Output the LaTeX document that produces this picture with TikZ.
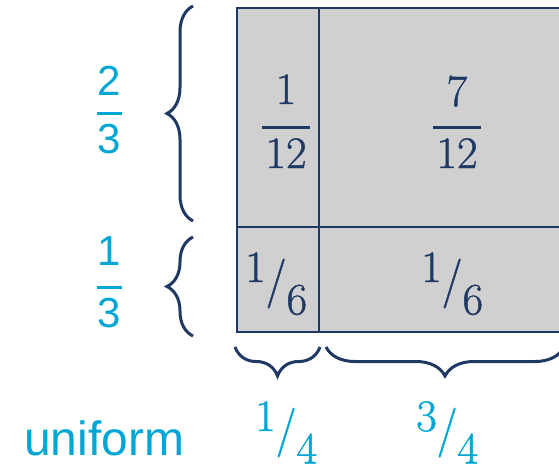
\documentclass[tikz,border=0pt]{standalone}
\usepackage{fontspec}
\usepackage{graphicx}
\usetikzlibrary{decorations.pathreplacing}
\newfontfamily\labelsans{Liberation Sans}
\newfontfamily\numserif[FakeBold=0.9]{Latin Modern Roman}
\definecolor{navy}{RGB}{31,56,100}
\definecolor{cyanlab}{RGB}{0,166,214}
\definecolor{cellgrey}{RGB}{208,208,208}
% numerator on the baseline, slash and denominator lowered
\newcommand\slashfrac[2]{#1\raisebox{-0.31em}{\scalebox{1}[1.1]{/}}\raisebox{-0.72em}{#2}}
\tikzset{
  grid line/.style={draw=navy, line width=2pt},
  cellnum/.style={inner sep=0pt, text=navy, font=\numserif\fontsize{45}{54}\selectfont},
  botnum/.style={inner sep=0pt, text=cyanlab, font=\numserif\fontsize{45}{54}\selectfont},
  sidenum/.style={inner sep=0pt, text=cyanlab, font=\labelsans\fontsize{42}{50}\selectfont},
  sidetext/.style={inner sep=0pt, text=cyanlab, font=\labelsans\fontsize{48}{57}\selectfont},
  fracbar/.style={line width=3pt},
  bracket/.style={draw=navy, line width=3pt, decorate},
}
\begin{document}
\begin{tikzpicture}[x=1pt, y=-1pt]
\useasboundingbox (0,0) rectangle (559,469);
\clip (0,0) rectangle (559,469);

% grey table with its dividing lines
\draw[grid line, fill=cellgrey] (237,7.5) rectangle (566,332);
\draw[grid line] (319,7.5) -- (319,332);
\draw[grid line] (237,227) -- (566,227);

% braces on the left
\draw[bracket, decoration={brace, amplitude=26pt}] (193,221) -- (193,6);
\draw[bracket, decoration={brace, amplitude=26pt}] (193,336) -- (193,237);
% braces below
\draw[bracket, decoration={brace, amplitude=29pt}] (320,347) -- (235,347);
\draw[bracket, decoration={brace, amplitude=29pt}] (564,347) -- (326,347);

% cell values
\node[cellnum, anchor=base] (n1) at (286,104) {1};
\draw[navy, fracbar] (262,127) -- (310,127);
\node[cellnum, anchor=base] (d1) at (286,168) {12};
\node[cellnum, anchor=base] (n7) at (457,106) {7};
\draw[navy, fracbar] (433,127) -- (481,127);
\node[cellnum, anchor=base] (d7) at (457,168) {12};
\node[cellnum, anchor=base west] (sa) at (245,282) {\slashfrac{1}{6}};
\node[cellnum, anchor=base west] (sb) at (421,282) {\slashfrac{1}{6}};

% row weights
\node[sidenum, anchor=base] (r2) at (109,95) {2};
\draw[cyanlab, fracbar] (97,113) -- (122,113);
\node[sidenum, anchor=base] (r3) at (109,153) {3};
\node[sidenum, anchor=base] (s1) at (109,265) {1};
\draw[cyanlab, fracbar] (97,287) -- (122,287);
\node[sidenum, anchor=base] (s3) at (109,327) {3};

% column weights
\node[sidetext, anchor=base west] (uni) at (24,455) {uniform};
\node[botnum, anchor=base west] (q1) at (255,431) {\slashfrac{1}{4}};
\node[botnum, anchor=base west] (q3) at (416,431) {\slashfrac{3}{4}};
\end{tikzpicture}
\end{document}
